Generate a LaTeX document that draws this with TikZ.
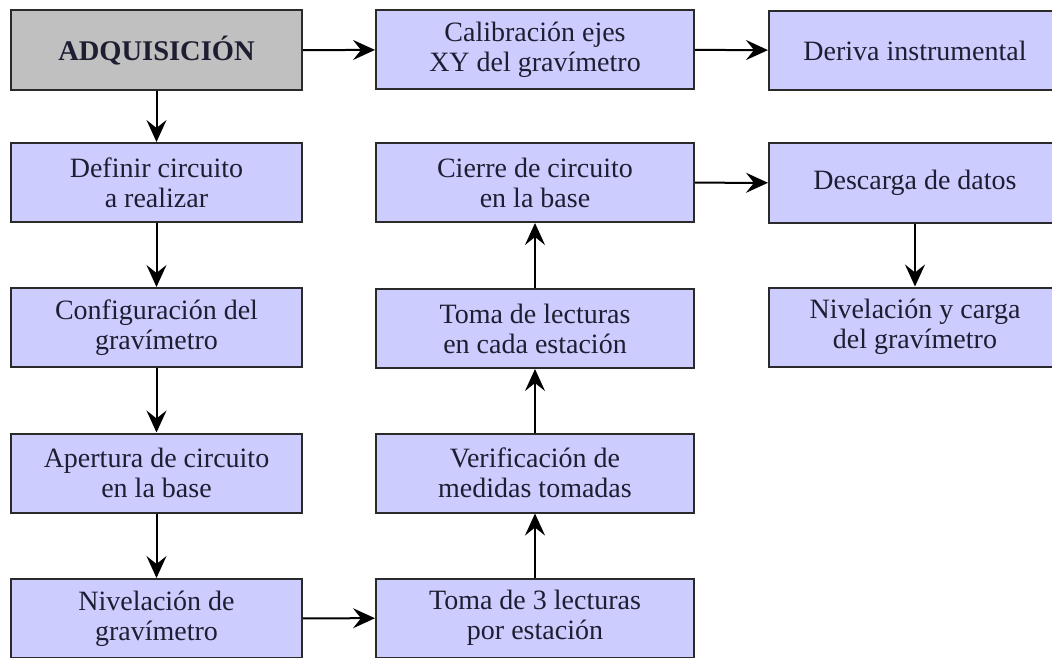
\documentclass[tikz,border=0pt]{standalone}
\usepackage{fontspec}
\setmainfont{Liberation Serif}
\usetikzlibrary{arrows.meta}
\definecolor{boxfill}{HTML}{CCCCFF}
\definecolor{adqfill}{HTML}{C0C0C0}
\definecolor{edge}{HTML}{2A2A2A}
\definecolor{txt}{HTML}{1E1E32}
\begin{document}
\begin{tikzpicture}[x=1pt,y=-1pt,
  box/.style={draw=edge, line width=2pt, fill=boxfill, inner sep=0pt,
    minimum height=79pt, align=center, text=txt,
    font=\fontsize{28}{30}\selectfont},
  colA/.style={box, minimum width=291pt},
  colB/.style={box, minimum width=318pt},
  colC/.style={box, minimum width=292pt},
  adqbox/.style={colA, fill=adqfill, minimum height=80pt,
    font=\fontsize{28.5}{30}\selectfont\bfseries},
  arr/.style={-{Stealth[length=22pt,width=20pt,inset=8pt]}, line width=2pt, draw=black}]
\fill[white] (0,0) rectangle (1052,658);
\clip (0,0) rectangle (1052,658);
% column 1
\node[adqbox] (adq) at (156.5,50.5) {ADQUISICIÓN};
\node[colA] (def) at (156.5,182.5) {Definir circuito\\a realizar};
\node[colA] (conf) at (156.5,327.5) {Configuración del\\gravímetro};
\node[colA] (ape) at (156.5,473) {Apertura de circuito\\en la base};
\node[colA] (niv) at (156.5,618.5) {Nivelación de\\gravímetro};
% column 2
\node[colB] (cal) at (535,49.5) {Calibración ejes\\XY del gravímetro};
\node[colB] (cie) at (535,182.5) {Cierre de circuito\\en la base};
\node[colB] (tom) at (535,328.5) {Toma de lecturas\\en cada estación};
\node[colB] (ver) at (535,473) {Verificación de\\medidas tomadas};
\node[colB] (t3) at (535,618) {Toma de 3 lecturas\\por estación};
% column 3
\node[colC] (der) at (915,50.5) {Deriva instrumental};
\node[colC] (des) at (915,183) {Descarga de datos};
\node[colC] (niv2) at (915,327) {Nivelación y carga\\del gravímetro};
% connectors
\draw[arr] (adq) -- (cal);
\draw[arr] (cal) -- (der);
\draw[arr] (adq) -- (def);
\draw[arr] (def) -- (conf);
\draw[arr] (conf) -- (ape);
\draw[arr] (ape) -- (niv);
\draw[arr] (niv) -- (t3);
\draw[arr] (t3) -- (ver);
\draw[arr] (ver) -- (tom);
\draw[arr] (tom) -- (cie);
\draw[arr] (cie) -- (des);
\draw[arr] (des) -- (niv2);
\end{tikzpicture}
\end{document}
